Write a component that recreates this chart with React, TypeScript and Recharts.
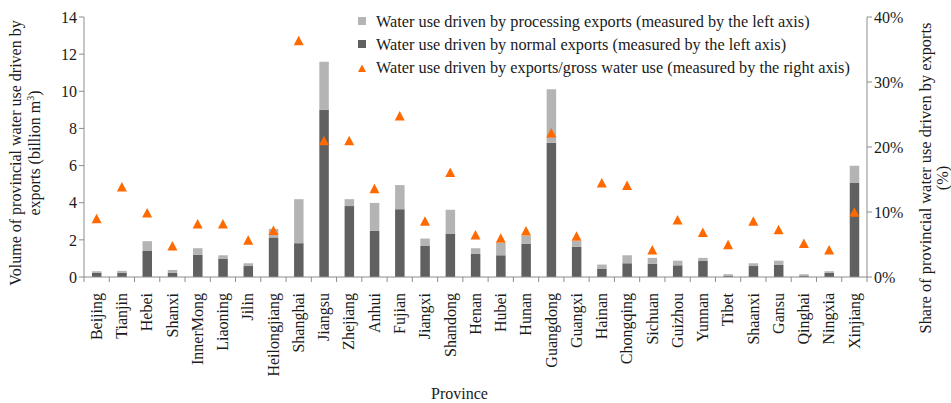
import React from 'react'
import { ComposedChart, Bar, Scatter, XAxis, YAxis, Legend } from 'recharts'

const PROVINCES = [
  'Beijing', 'Tianjin', 'Hebei', 'Shanxi', 'InnerMong', 'Liaoning', 'Jilin', 'Heilongjiang',
  'Shanghai', 'Jiangsu', 'Zhejiang', 'Anhui', 'Fujian', 'Jiangxi', 'Shandong', 'Henan',
  'Hubei', 'Hunan', 'Guangdong', 'Guangxi', 'Hainan', 'Chongqing', 'Sichuan', 'Guizhou',
  'Yunnan', 'Tibet', 'Shaanxi', 'Gansu', 'Qinghai', 'Ningxia', 'Xinjiang',
]

// billion m3
const NORMAL_EXPORTS = [
  0.22, 0.22, 1.40, 0.22, 1.19, 0.97, 0.59, 2.13,
  1.82, 9.00, 3.82, 2.48, 3.65, 1.67, 2.34, 1.24,
  1.17, 1.78, 7.23, 1.62, 0.43, 0.74, 0.72, 0.63,
  0.86, 0.05, 0.59, 0.65, 0.05, 0.22, 5.06,
]
const PROCESSING_EXPORTS = [
  0.09, 0.11, 0.53, 0.16, 0.36, 0.20, 0.15, 0.46,
  2.37, 2.59, 0.37, 1.51, 1.30, 0.40, 1.28, 0.31,
  0.66, 0.45, 2.88, 0.32, 0.24, 0.43, 0.31, 0.25,
  0.17, 0.10, 0.15, 0.23, 0.10, 0.09, 0.93,
]
// % of gross water use
const EXPORT_SHARE = [
  9.0, 13.9, 9.9, 4.8, 8.2, 8.2, 5.7, 7.2,
  36.4, 21.0, 21.0, 13.6, 24.8, 8.6, 16.1, 6.5,
  6.0, 7.1, 22.2, 6.3, 14.5, 14.1, 4.2, 8.8,
  6.9, 5.0, 8.6, 7.3, 5.2, 4.2, 10.0,
]

const LEFT_TICKS = [0, 2, 4, 6, 8, 10, 12, 14]
const RIGHT_TICKS = [0, 10, 20, 30, 40]

const W = 951
const H = 403
const AXIS_W = 84
const PLOT_W = W - AXIS_W * 2
const STEP = PLOT_W / PROVINCES.length

const FONT = '"Liberation Serif", "Times New Roman", serif'
const TEXT = '#1a1a1a'
const AXIS = '#8c8c8c'
const DARK = '#606060'
const LIGHT = '#b4b4b4'
const ORANGE = '#ff6a00'

const data = PROVINCES.map((name, i) => ({
  name,
  normal: NORMAL_EXPORTS[i],
  processing: PROCESSING_EXPORTS[i],
  share: EXPORT_SHARE[i],
}))

const LEGEND_ITEMS = [
  { kind: 'square', color: LIGHT, text: 'Water use driven by processing exports (measured by the left axis)' },
  { kind: 'square', color: DARK, text: 'Water use driven by normal exports (measured by the left axis)' },
  { kind: 'triangle', color: ORANGE, text: 'Water use driven by exports/gross water use (measured by the right axis)' },
]

function Triangle(props: any) {
  const { cx, cy } = props
  if (cx == null || cy == null) return null
  const w = 10
  const h = 9.5
  return (
    <polygon
      points={`${cx},${cy - h / 2} ${cx + w / 2},${cy + h / 2} ${cx - w / 2},${cy + h / 2}`}
      fill={ORANGE}
    />
  )
}

// rotated province names plus tick marks on the category boundaries
function ProvinceTick(props: any) {
  const { x, y, payload, index } = props
  const top = y - 8
  const last = index === PROVINCES.length - 1
  return (
    <g>
      <line x1={x - STEP / 2} x2={x - STEP / 2} y1={top} y2={top + 5} stroke={AXIS} />
      {last && <line x1={x + STEP / 2} x2={x + STEP / 2} y1={top} y2={top + 5} stroke={AXIS} />}
      <text
        x={x} y={top + 16} transform={`rotate(-90, ${x}, ${top + 16})`}
        textAnchor="end" dy="0.33em" fontSize={16} fontFamily={FONT} fill={TEXT}
      >
        {payload.value}
      </text>
    </g>
  )
}

function LegendBox() {
  return (
    <div style={{ fontFamily: FONT, fontSize: 16.3, color: TEXT, lineHeight: '23.3px' }}>
      {LEGEND_ITEMS.map(item => (
        <div key={item.text} style={{ display: 'flex', alignItems: 'center', whiteSpace: 'nowrap' }}>
          <svg width={14} height={10} style={{ marginRight: 5 }}>
            {item.kind === 'square'
              ? <rect x={1} y={1} width={8} height={8} fill={item.color} />
              : <polygon points="5,1.5 9,9 1,9" fill={item.color} />}
          </svg>
          {item.text}
        </div>
      ))}
    </div>
  )
}

function LeftTitle(props: any) {
  const { viewBox } = props
  const cy = viewBox.y + viewBox.height / 2 + 6
  return (
    <text transform={`rotate(-90, 0, ${cy})`} x={0} y={cy} textAnchor="middle"
      fontSize={16} fontFamily={FONT} fill={TEXT}>
      <tspan x={0} dy={21}>Volume of provincial water use driven by</tspan>
      <tspan x={0} dy={19}>exports (billion m</tspan>
      <tspan dy={-6} fontSize={10}>3</tspan>
      <tspan dy={6}>)</tspan>
    </text>
  )
}

function RightTitle(props: any) {
  const { viewBox } = props
  const cy = viewBox.y + viewBox.height / 2 + 31
  const x = W
  return (
    <text transform={`rotate(-90, ${x}, ${cy})`} x={x} y={cy} textAnchor="middle"
      fontSize={16.4} fontFamily={FONT} fill={TEXT}>
      <tspan x={x} dy={-20}>Share of provincial water use driven by exports</tspan>
      <tspan x={x} dy={17}>(%)</tspan>
    </text>
  )
}

function BottomTitle(props: any) {
  const { viewBox } = props
  return (
    <text x={viewBox.x + viewBox.width / 2 - 16} y={H - 4} textAnchor="middle"
      fontSize={16} fontFamily={FONT} fill={TEXT}>
      Province
    </text>
  )
}

export default function App() {
  return (
    <div style={{ position: 'absolute', left: 0, top: 0, width: W, height: H, background: '#fff' }}>
      <ComposedChart width={W} height={H} data={data}
        margin={{ top: 17, right: 0, bottom: 0, left: 0 }} barCategoryGap="0%">
        <XAxis dataKey="name" interval={0} height={126} tickLine={false}
          axisLine={{ stroke: AXIS }} tick={<ProvinceTick />} label={<BottomTitle />} />
        <YAxis yAxisId="left" orientation="left" width={AXIS_W} domain={[0, 14]} ticks={LEFT_TICKS}
          axisLine={{ stroke: AXIS }} tickLine={{ stroke: AXIS }} tickSize={5}
          tick={{ fontSize: 16, fontFamily: FONT, fill: TEXT }} label={<LeftTitle />} />
        <YAxis yAxisId="right" orientation="right" width={AXIS_W} domain={[0, 40]} ticks={RIGHT_TICKS}
          axisLine={{ stroke: AXIS }} tickLine={{ stroke: AXIS }} tickSize={5}
          tickFormatter={(v: number) => `${v}%`}
          tick={{ fontSize: 16, fontFamily: FONT, fill: TEXT }} label={<RightTitle />} />
        <Legend layout="horizontal" verticalAlign="middle" align="center" content={<LegendBox />}
          wrapperStyle={{ position: 'absolute', left: 357, top: 9.5, width: 520 }} />
        <Bar yAxisId="left" dataKey="normal" stackId="exports" fill={DARK} barSize={9.5}
          isAnimationActive={false} />
        <Bar yAxisId="left" dataKey="processing" stackId="exports" fill={LIGHT} barSize={9.5}
          isAnimationActive={false} />
        <Scatter yAxisId="right" dataKey="share" shape={<Triangle />} isAnimationActive={false} />
      </ComposedChart>
    </div>
  )
}
